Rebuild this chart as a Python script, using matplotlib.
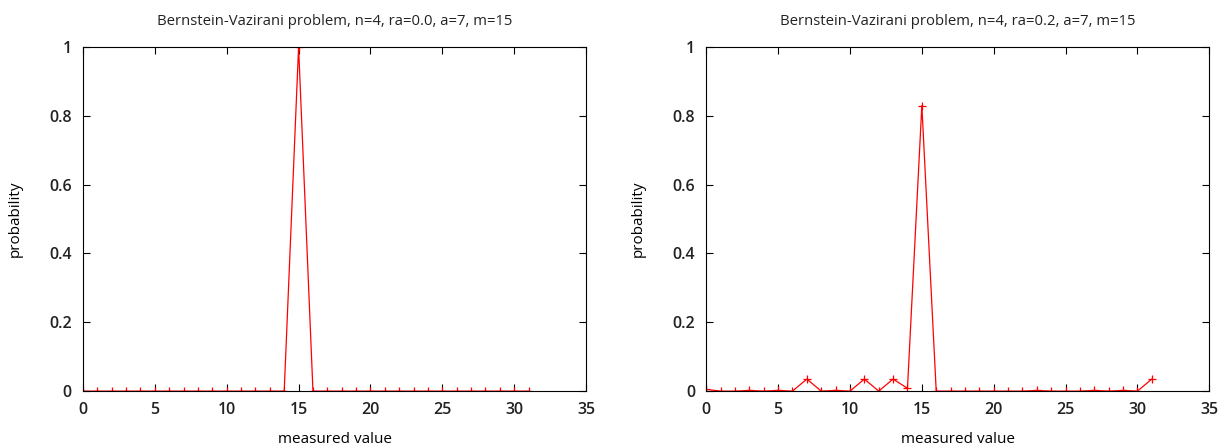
import matplotlib
matplotlib.use("Agg")
import matplotlib.pyplot as plt

# measured values 0..31 and their probabilities
x_vals = list(range(32))
prob_ra00 = [0.0] * 15 + [1.0] + [0.0] * 16
prob_ra02 = [0.005, 0.0, 0.0, 0.002, 0.0, 0.002, 0.0, 0.035,
             0.0, 0.002, 0.0, 0.035, 0.0, 0.035, 0.008, 0.83,
             0.0, 0.0, 0.0, 0.0, 0.0, 0.0, 0.0, 0.002,
             0.0, 0.0, 0.0, 0.002, 0.0, 0.002, 0.0, 0.035]
titles = ["Bernstein-Vazirani problem, n=4, ra=0.0, a=7, m=15",
          "Bernstein-Vazirani problem, n=4, ra=0.2, a=7, m=15"]

plt.rcParams['font.family'] = ['Open Sans', 'DejaVu Sans']
plt.rcParams['font.weight'] = 'semibold'
plt.rcParams['text.color'] = '#222222'
plt.rcParams['xtick.labelcolor'] = '#222222'
plt.rcParams['ytick.labelcolor'] = '#222222'

fig = plt.figure(figsize=(12.24, 4.48), dpi=100)
positions = [[0.0678, 0.127, 0.411, 0.768], [0.577, 0.127, 0.411, 0.768]]

for pos, probs, title in zip(positions, [prob_ra00, prob_ra02], titles):
    ax = fig.add_axes(pos)
    ax.plot(x_vals, probs, color='red', linewidth=0.9, marker='+',
            markersize=6, markeredgewidth=0.9)
    ax.set_xlim(0, 35)
    ax.set_ylim(0, 1)
    ax.set_xticks(range(0, 36, 5))
    ax.set_yticks([0, 0.2, 0.4, 0.6, 0.8, 1])
    ax.set_yticklabels(["0", "0.2", "0.4", "0.6", "0.8", "1"])
    ax.tick_params(direction='in', top=True, right=True, length=5,
                   width=0.8, labelsize=11.5, pad=8)
    ax.set_title(title, fontsize=10.7, pad=16)
    ax.set_xlabel("measured value", fontsize=11, labelpad=10)
    ax.set_ylabel("probability", fontsize=11, labelpad=19)
    for sp in ax.spines.values():
        sp.set_linewidth(0.8)

fig.savefig("out.png", dpi=100)
